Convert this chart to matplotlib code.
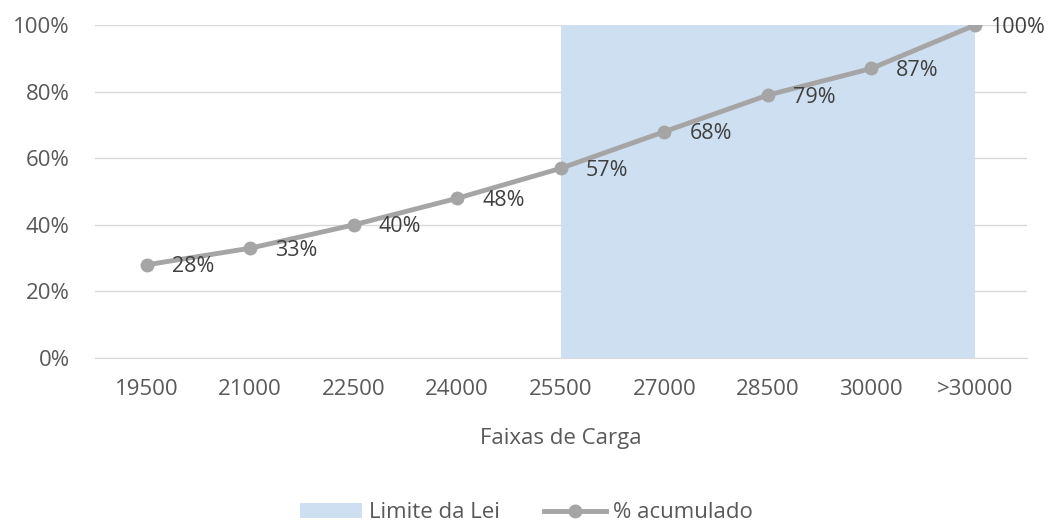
import matplotlib.pyplot as plt
from matplotlib.patches import Patch
from matplotlib.lines import Line2D

# faixas de carga e percentual acumulado
faixas = ['19500', '21000', '22500', '24000', '25500', '27000', '28500', '30000', '>30000']
acumulado = [28, 33, 40, 48, 57, 68, 79, 87, 100]
# faixas acima do limite da lei (25500 em diante)
limite_inicio = 4
limite_valor = 100

plt.rcParams['font.family'] = ['Open Sans', 'DejaVu Sans']

fig = plt.figure(figsize=(10.53, 5.25), dpi=100)
ax = fig.add_axes([0.090, 0.318, 0.885, 0.634])

x = list(range(len(faixas)))

# area do limite da lei
xs = x[limite_inicio:]
ax.fill_between(xs, 0, [limite_valor] * len(xs), color='#cddff0', linewidth=0, zorder=1)

# linha do acumulado
ax.plot(x, acumulado, color='#a5a5a5', linewidth=3.5, marker='o', markersize=9, zorder=3)

for xi, v in zip(x, acumulado):
    # o ultimo rotulo fica mais perto do ponto para caber na figura
    dx = 11 if xi == x[-1] else 18
    ax.annotate(f'{v}%', (xi, v), xytext=(dx, -1.5), textcoords='offset points',
                ha='left', va='center', fontsize=15.5, color='#404040', zorder=4)

ax.set_xlim(-0.5, len(faixas) - 0.5)
ax.set_ylim(0, 100)
ax.set_yticks([0, 20, 40, 60, 80, 100])
ax.set_yticklabels([f'{t}%' for t in [0, 20, 40, 60, 80, 100]])
ax.set_xticks(x)
ax.set_xticklabels(faixas)
ax.grid(axis='y', color='#d9d9d9', linewidth=1, zorder=0)
ax.set_axisbelow(True)
for s in ['top', 'right', 'left']:
    ax.spines[s].set_visible(False)
ax.spines['bottom'].set_color('#d9d9d9')
ax.tick_params(axis='both', length=0, labelsize=16, labelcolor='#595959')
ax.tick_params(axis='y', pad=18)
ax.tick_params(axis='x', pad=15)

ax.set_xlabel('Faixas de Carga', fontsize=16, color='#595959', labelpad=20)

handles = [Patch(facecolor='#cddff0', edgecolor='none'),
           Line2D([0], [0], color='#a5a5a5', linewidth=3.5, marker='o', markersize=9)]
fig.legend(handles, ['Limite da Lei', '% acumulado'], loc='center', bbox_to_anchor=(0.50, 0.023),
           ncol=2, frameon=False, fontsize=16, labelcolor='#595959',
           handlelength=2.8, handletextpad=0.3, columnspacing=2.0)

fig.savefig('out.png', dpi=100)
